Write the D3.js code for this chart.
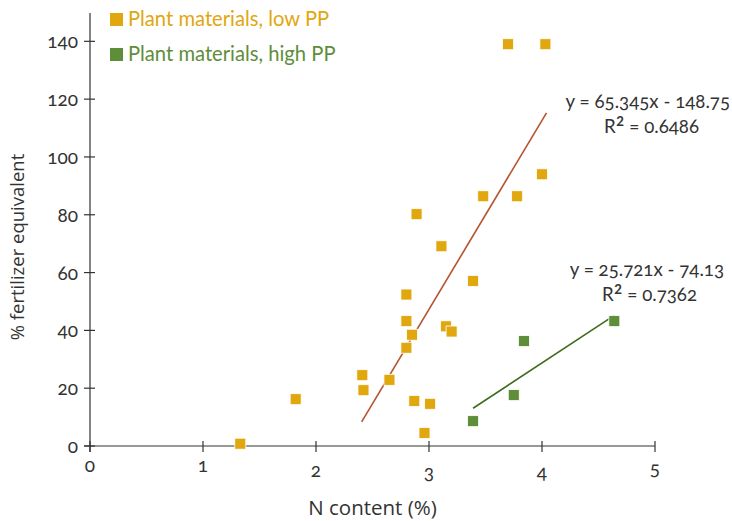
<!DOCTYPE html>
<html>
<head>
<meta charset="utf-8">
<script src="https://cdn.jsdelivr.net/npm/d3@7"></script>
<style>
  body { margin: 0; background: #fff; }
  svg text { font-family: Lato, "Open Sans", sans-serif; font-variant-numeric: oldstyle-nums; }
  svg text.title { font-family: "Open Sans", sans-serif; }
</style>
</head>
<body>
<div id="chart"></div>
<script>
const width = 732, height = 521;
const margin = {left: 90, top: 13, right: 77, bottom: 75};

// low PP plant materials: N content (%) and % fertilizer equivalent
const lowX = [1.33, 1.82, 2.41, 2.42, 2.65, 2.80, 2.80, 2.85, 2.80, 2.87, 2.89, 3.01, 2.96, 3.11, 3.15, 3.20, 3.39, 3.48, 3.78, 4.00, 3.70, 4.03];
const lowY = [0.8, 16.2, 24.5, 19.3, 22.9, 52.4, 43.2, 38.5, 34.0, 15.6, 80.2, 14.6, 4.5, 69.1, 41.4, 39.6, 57.1, 86.4, 86.4, 94.0, 139.0, 139.0];
// high PP plant materials
const highX = [3.39, 3.75, 3.84, 4.64];
const highY = [8.6, 17.6, 36.3, 43.2];

// regression lines: slope, intercept, x range
const lowFit = {slope: 65.345, intercept: -148.75, x0: 2.404, x1: 4.04};
const highFit = {slope: 25.721, intercept: -74.13, x0: 3.39, x1: 4.64};

const xTicks = [0, 1, 2, 3, 4, 5];
const yTicks = [0, 20, 40, 60, 80, 100, 120, 140];

const orange = "#e1a70f", green = "#5e8e3a";
const ink = "#333";

const svg = d3.select("#chart").append("svg")
    .attr("width", width)
    .attr("height", height);

const x = d3.scaleLinear().domain([0, 5]).range([margin.left, width - margin.right]);
const y = d3.scaleLinear().domain([0, 149.8]).range([446, margin.top]);

// axes
const xAxis = svg.append("g");
xAxis.append("line")
    .attr("x1", x(0) - 6).attr("x2", x(5))
    .attr("y1", y(0)).attr("y2", y(0))
    .attr("stroke", ink).attr("stroke-width", 1.2);
xAxis.selectAll(".xt").data(xTicks).join("line")
    .attr("x1", d => x(d)).attr("x2", d => x(d))
    .attr("y1", y(0) - 5).attr("y2", y(0) + 6)
    .attr("stroke", ink).attr("stroke-width", 1.2);
// old-style figures sit at different heights
const xLabelDrop = {0: 0, 1: 0, 2: 5, 3: 7, 4: 7, 5: 3};
xAxis.selectAll(".xl").data(xTicks).join("text")
    .attr("x", d => x(d)).attr("y", d => y(0) + 26 + xLabelDrop[d])
    .attr("text-anchor", "middle")
    .attr("font-size", 19).attr("fill", ink)
    .text(d => d);

const yAxis = svg.append("g");
yAxis.append("line")
    .attr("x1", x(0)).attr("x2", x(0))
    .attr("y1", y(149.8)).attr("y2", y(0) + 6)
    .attr("stroke", ink).attr("stroke-width", 1.2);
yAxis.selectAll(".yt").data(yTicks).join("line")
    .attr("x1", x(0) - 6).attr("x2", x(0) + 5)
    .attr("y1", d => y(d)).attr("y2", d => y(d))
    .attr("stroke", ink).attr("stroke-width", 1.2);
yAxis.selectAll(".yl").data(yTicks).join("text")
    .attr("x", x(0) - 12).attr("y", d => y(d) + 7)
    .attr("text-anchor", "end")
    .attr("font-size", 19).attr("fill", ink)
    .text(d => d);

// axis titles
svg.append("text")
    .attr("class", "title")
    .attr("x", x(2.5)).attr("y", 515)
    .attr("text-anchor", "middle")
    .attr("font-size", 20.5).attr("fill", ink)
    .text("N content (%)");
svg.append("text")
    .attr("class", "title")
    .attr("transform", `translate(24, 247) rotate(-90)`)
    .attr("text-anchor", "middle")
    .attr("font-size", 18.5).attr("fill", ink)
    .text("% fertilizer equivalent");

// trend lines
function fitLine(f, color) {
  svg.append("line")
      .attr("x1", x(f.x0)).attr("y1", y(f.slope * f.x0 + f.intercept))
      .attr("x2", x(f.x1)).attr("y2", y(f.slope * f.x1 + f.intercept))
      .attr("stroke", color).attr("stroke-width", 1.6);
}
fitLine(lowFit, "#b4532f");
fitLine(highFit, "#3d6b1f");

// points
const sq = 11;
function points(xs, ys, color) {
  svg.append("g").selectAll("rect").data(xs).join("rect")
      .attr("x", (d) => x(d) - sq / 2)
      .attr("y", (d, i) => y(ys[i]) - sq / 2)
      .attr("width", sq).attr("height", sq)
      .attr("fill", color)
      .attr("stroke", "#fff").attr("stroke-width", 0.8);
}
points(lowX, lowY, orange);
points(highX, highY, green);

// equations
function eqLabel(eq, r2, xr, yb) {
  svg.append("text")
      .attr("x", xr[0]).attr("y", yb)
      .attr("text-anchor", "end")
      .attr("font-size", 18.7).attr("fill", ink)
      .text(eq);
  const t = svg.append("text")
      .attr("x", xr[1]).attr("y", yb + 25)
      .attr("text-anchor", "end")
      .attr("font-size", 18.7).attr("fill", ink);
  t.append("tspan").text("R");
  t.append("tspan").attr("font-size", 26).attr("dy", 5).text("²");
  t.append("tspan").attr("dy", -5).text(" = " + r2);
}
eqLabel("y = 65.345x - 148.75", "0.6486", [730, 699], 108);
eqLabel("y = 25.721x - 74.13", "0.7362", [724, 697], 276);

// legend
const legend = [
  {label: "Plant materials, low PP", color: orange},
  {label: "Plant materials, high PP", color: green}
];
const lg = svg.append("g");
lg.selectAll("rect").data(legend).join("rect")
    .attr("x", 110).attr("y", (d, i) => 13 + i * 35)
    .attr("width", 13).attr("height", 13)
    .attr("fill", d => d.color);
lg.selectAll("text").data(legend).join("text")
    .attr("x", 128).attr("y", (d, i) => 26 + i * 35)
    .attr("font-size", 20.2)
    .attr("fill", d => d.color)
    .text(d => d.label);
</script>
</body>
</html>
